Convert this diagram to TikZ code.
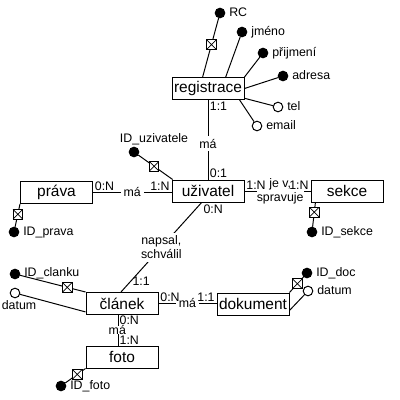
\documentclass[tikz,border=0pt]{standalone}
\usepackage{fontspec}
\setmainfont{Liberation Sans}
\usetikzlibrary{positioning}

\begin{document}
\begin{tikzpicture}[
    x=0.025cm, y=-0.025cm, line width=0.7pt,
    entity/.style={draw, minimum width=1.8cm, minimum height=0.55cm, inner sep=0pt, font=\fontsize{11}{13}\selectfont},
    keyattr/.style={circle, draw, fill=black, minimum size=0.24cm, inner sep=0pt},
    attr/.style={circle, draw, fill=white, minimum size=0.24cm, inner sep=0pt},
    keymark/.style={draw, fill=white, minimum size=0.24cm, inner sep=0pt,
        path picture={\draw[line width=0.5pt] (path picture bounding box.south west) -- (path picture bounding box.north east)
                            (path picture bounding box.north west) -- (path picture bounding box.south east);}},
    attrname/.style={inner sep=1pt, text height=6.5pt, text depth=1.3pt, font=\fontsize{8.8}{10}\selectfont},
    card/.style={inner sep=1pt, font=\fontsize{8.8}{10}\selectfont},
    rel/.style={fill=white, inner sep=2pt, align=center, font=\fontsize{8.8}{10}\selectfont}
]
    \path[use as bounding box, fill=white] (0,0) rectangle (400,400);

    % entities
    \node[entity] (registrace) at (208,88.5)  {registrace};
    \node[entity] (uzivatel)   at (208,191)   {uživatel};
    \node[entity] (prava)      at (56.5,192.5) {práva};
    \node[entity] (sekce)      at (347,191)   {sekce};
    \node[entity] (clanek)     at (122,303.5) {článek};
    \node[entity] (foto)       at (122,357)   {foto};
    \node[entity] (dokument)   at (253,304)   {dokument};

    % attributes of registrace
    \node[keyattr] (rc)       at (220,13)  {};
    \node[keyattr] (jmeno)    at (242,32)  {};
    \node[keyattr] (prijmeni) at (263,53)  {};
    \node[keyattr] (adresa)   at (283,76)  {};
    \node[attr]    (tel)      at (278,107) {};
    \node[attr]    (email)    at (257,126) {};
    \node[attrname, right=1.5pt of rc]       (rcname)       {RC};
    \node[attrname, right=1.5pt of jmeno]    (jmenoname)    {jméno};
    \node[attrname, right=1.5pt of prijmeni] (prijmeniname) {přijmení};
    \node[attrname, right=1.5pt of adresa]   (adresaname)   {adresa};
    \node[attrname, right=1.5pt of tel]      (telname)      {tel};
    \node[attrname, right=1.5pt of email]    (emailname)    {email};
    \draw (rc) -- node[keymark, pos=0.45] (rckey) {} (registrace.115);
    \draw (jmeno) -- (registrace.33);
    \draw (prijmeni) -- (registrace.north east);
    \draw (adresa) -- (registrace.east);
    \draw (tel) -- (registrace.345);
    \draw (email) -- (registrace.340);

    % attributes of the other entities
    \node[keyattr] (iduz) at (134,152) {};
    \node[attrname, above=0pt of iduz, xshift=0.5cm] (iduzname) {ID\_uzivatele};
    \draw (iduz) -- node[keymark, pos=0.46] (iduzkey) {} (uzivatel.162);

    \node[keyattr] (idpr) at (14,232) {};
    \node[attrname, right=1.5pt of idpr] (idprname) {ID\_prava};
    \draw (idpr) -- node[keymark, pos=0.55] (idprkey) {} (prava.south west);

    \node[keyattr] (idse) at (312,232) {};
    \node[attrname, right=1.5pt of idse] (idsename) {ID\_sekce};
    \draw (idse) -- node[keymark, pos=0.6] (idsekey) {} (sekce.200);

    \node[keyattr] (idcl) at (15,274) {};
    \node[attrname, right=1.5pt of idcl, yshift=1pt] (idclname) {ID\_clanku};
    \draw (idcl) -- node[keymark, pos=0.72] (idclkey) {} (clanek.north west);
    \node[attr] (datcl) at (15,293) {};
    \node[attrname, below=0pt of datcl, xshift=0.1cm] (datclname) {datum};
    \draw (datcl) -- (clanek.193);

    \node[keyattr] (idfo) at (61,386) {};
    \node[attrname, right=1.5pt of idfo] (idfoname) {ID\_foto};
    \draw (idfo) -- node[keymark, pos=0.59] (idfokey) {} (foto.south west);

    \node[keyattr] (iddo) at (307,273) {};
    \node[attrname, right=1.5pt of iddo] (iddoname) {ID\_doc};
    \draw (iddo) -- node[keymark, pos=0.44] (iddokey) {} (dokument.north east);
    \node[attr] (datdo) at (308,291) {};
    \node[attrname, right=1.5pt of datdo] (datdoname) {datum};
    \draw (datdo) -- (dokument.350);

    % relationships
    \draw (registrace.south) -- node[rel, pos=0.55] (ru) {má}
        node[card, pos=0, anchor=north west] (ru0) {1:1}
        node[card, pos=1, anchor=south west] (ru1) {0:1} (uzivatel.north);
    \draw (prava.east) -- node[rel] (pu) {má}
        node[card, pos=0, above right] (pu0) {0:N}
        node[card, pos=1, above left] (pu1) {1:N} (prava.east -| uzivatel.west);
    \draw (uzivatel.east) -- node[rel, pos=0.54, inner sep=0pt] (us) {je v,\\spravuje}
        node[card, pos=0, above right] (us0) {1:N}
        node[card, pos=1, above left] (us1) {1:N} (sekce.west);
    \draw (uzivatel.241) -- node[rel] (uc) {napsal,\\schválil}
        node[card, pos=0, anchor=north west] (uc0) {0:N}
        node[card, pos=0.88, anchor=west] (uc1) {1:1} (clanek.95);
    \draw (clanek.east) -- node[rel] (cd) {má}
        node[card, pos=0, above right] (cd0) {0:N}
        node[card, pos=1, above left] (cd1) {1:1} (clanek.east -| dokument.west);
    \draw (clanek.254) -- node[rel, inner sep=0.2pt, xshift=-1pt, text height=5.6pt, text depth=0pt] (cf) {má}
        node[card, pos=0, anchor=north west, inner sep=0.3pt] (cf0) {0:N}
        node[card, pos=1, anchor=south west, inner sep=0.3pt] (cf1) {1:N} (clanek.254 |- foto.north);
\end{tikzpicture}
\end{document}
